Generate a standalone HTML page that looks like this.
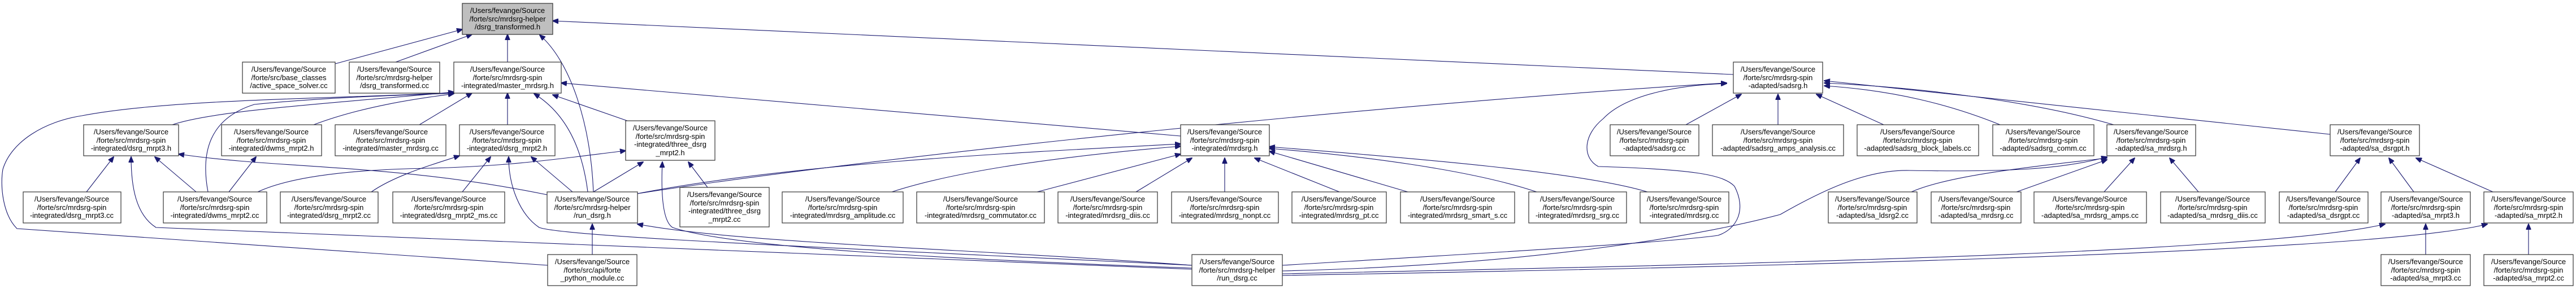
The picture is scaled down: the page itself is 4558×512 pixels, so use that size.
<!DOCTYPE html>
<html><head><meta charset="utf-8"><style>
html,body{margin:0;padding:0;background:#fff;width:4558px;height:512px;overflow:hidden}
svg text{font-family:"Liberation Sans",Arial,sans-serif;font-size:13px;fill:#000}
.b{fill:#fff;stroke:#333;stroke-width:1.2}
.g{fill:#bfbfbf;stroke:#333;stroke-width:1.2}
.e{fill:none;stroke:#191970;stroke-width:1.1}
</style></head><body>
<svg width="4558" height="512" viewBox="0 0 4558 512" xmlns="http://www.w3.org/2000/svg">
<defs><marker id="a" markerWidth="11" markerHeight="9" refX="10" refY="4.5" orient="auto" markerUnits="userSpaceOnUse"><path d="M0,0 L11,4.5 L0,9z" fill="#191970" stroke="#191970"/></marker></defs>
<g class="e" marker-end="url(#a)">
<path d="M593,113 L818,52"/>
<path d="M700,110 L835,61"/>
<path d="M898,110 L898,61"/>
<path d="M1050,340 C1045,220 1010,110 955,62"/>
<path d="M3067,132 L978,37"/>
<path d="M305,221 C380,195 600,182 803,163"/>
<path d="M555,221 C650,185 760,172 803,166"/>
<path d="M742,221 L835,165"/>
<path d="M898,221 L898,165"/>
<path d="M1110,214 L978,168"/>
<path d="M1040,340 C1030,260 1000,200 945,166"/>
<path d="M2089,241 L993,147"/>
<path d="M969,470 L30,405 C5,380 0,330 5,300 C20,250 80,215 145,205 C300,175 600,175 803,164"/>
<path d="M368,340 C355,270 370,210 450,185 C600,170 750,168 803,165"/>
<path d="M153,340 L201,278"/>
<path d="M347,340 L274,278"/>
<path d="M2109,477 L276,403 C240,380 232,330 232,278"/>
<path d="M968,345 C700,290 500,300 316,273"/>
<path d="M405,340 L453,278"/>
<path d="M657,340 C700,310 770,290 813,276"/>
<path d="M818,340 L868,278"/>
<path d="M1013,340 L940,278"/>
<path d="M2109,470 C1500,440 1000,420 954,403 C920,380 900,330 900,278"/>
<path d="M456,340 C520,310 640,300 760,298 C900,295 1000,280 1107,267"/>
<path d="M1050,340 L1138,287"/>
<path d="M1252,332 L1218,287"/>
<path d="M2109,475 C1700,460 1300,440 1190,403 C1170,390 1170,330 1172,287"/>
<path d="M1128,343 C1400,290 1800,270 2089,255"/>
<path d="M1578,340 C1700,300 1900,275 2089,259"/>
<path d="M1835,340 L2089,273"/>
<path d="M2010,340 L2109,280"/>
<path d="M2167,340 L2167,280"/>
<path d="M2370,340 L2220,280"/>
<path d="M2491,340 L2246,268"/>
<path d="M2719,340 C2600,300 2400,275 2246,263"/>
<path d="M2915,340 C2800,305 2500,280 2246,260"/>
<path d="M1048,451 L1048,397"/>
<path d="M2109,470 C1700,440 1300,430 1128,397"/>
<path d="M1128,343 C1600,270 2500,180 3055,147"/>
<path d="M2983,221 L3081,167"/>
<path d="M3146,221 L3146,167"/>
<path d="M3333,221 L3214,167"/>
<path d="M3539,221 C3450,185 3350,160 3228,152"/>
<path d="M3740,221 C3600,180 3400,155 3228,147"/>
<path d="M4123,238 L3228,143"/>
<path d="M2269,470 C2600,450 2950,430 3040,417 C3075,405 3090,370 3069,330 C3050,310 3000,300 2828,295 C2800,280 2800,240 2837,210 C2880,165 2980,150 3055,148"/>
<path d="M3382,340 C3450,310 3600,295 3728,280"/>
<path d="M3568,340 L3728,283"/>
<path d="M3723,340 L3777,280"/>
<path d="M3890,340 L3839,280"/>
<path d="M2269,480 C2700,470 3000,420 3150,380 C3220,340 3300,300 3379,302 C3550,305 3650,300 3728,278"/>
<path d="M4132,340 L4176,280"/>
<path d="M4271,340 L4227,280"/>
<path d="M4411,340 L4275,280"/>
<path d="M4292,451 L4292,397"/>
<path d="M2269,485 C3000,470 4000,450 4220,397"/>
<path d="M4474,451 L4474,397"/>
<path d="M2269,488 C3000,475 4200,450 4401,397"/>
</g>

<g text-anchor="middle">
<rect class="g" x="818" y="6" width="160" height="55"/><text x="898" y="23">/Users/fevange/Source</text><text x="898" y="38">/forte/src/mrdsrg-helper</text><text x="898" y="52">/dsrg_transformed.h</text>

<rect class="b" x="429" y="110" width="164" height="55"/><text x="511" y="127">/Users/fevange/Source</text><text x="511" y="142">/forte/src/base_classes</text><text x="511" y="156">/active_space_solver.cc</text>
<rect class="b" x="618" y="110" width="160" height="55"/><text x="698" y="127">/Users/fevange/Source</text><text x="698" y="142">/forte/src/mrdsrg-helper</text><text x="698" y="156">/dsrg_transformed.cc</text>
<rect class="b" x="803" y="110" width="190" height="55"/><text x="898" y="127">/Users/fevange/Source</text><text x="898" y="142">/forte/src/mrdsrg-spin</text><text x="898" y="156">-integrated/master_mrdsrg.h</text>
<rect class="b" x="3067" y="110" width="158" height="55"/><text x="3146" y="127">/Users/fevange/Source</text><text x="3146" y="142">/forte/src/mrdsrg-spin</text><text x="3146" y="156">-adapted/sadsrg.h</text>

<rect class="b" x="148" y="221" width="168" height="55"/><text x="232" y="238">/Users/fevange/Source</text><text x="232" y="253">/forte/src/mrdsrg-spin</text><text x="232" y="267">-integrated/dsrg_mrpt3.h</text>
<rect class="b" x="392" y="221" width="177" height="55"/><text x="480" y="238">/Users/fevange/Source</text><text x="480" y="253">/forte/src/mrdsrg-spin</text><text x="480" y="267">-integrated/dwms_mrpt2.h</text>
<rect class="b" x="593" y="221" width="196" height="55"/><text x="691" y="238">/Users/fevange/Source</text><text x="691" y="253">/forte/src/mrdsrg-spin</text><text x="691" y="267">-integrated/master_mrdsrg.cc</text>
<rect class="b" x="813" y="221" width="169" height="55"/><text x="897" y="238">/Users/fevange/Source</text><text x="897" y="253">/forte/src/mrdsrg-spin</text><text x="897" y="267">-integrated/dsrg_mrpt2.h</text>
<rect class="b" x="1107" y="214" width="158" height="70"/><text x="1186" y="231">/Users/fevange/Source</text><text x="1186" y="246">/forte/src/mrdsrg-spin</text><text x="1186" y="260">-integrated/three_dsrg</text><text x="1186" y="275">_mrpt2.h</text>
<rect class="b" x="2089" y="221" width="157" height="55"/><text x="2167" y="238">/Users/fevange/Source</text><text x="2167" y="253">/forte/src/mrdsrg-spin</text><text x="2167" y="267">-integrated/mrdsrg.h</text>
<rect class="b" x="2849" y="221" width="157" height="55"/><text x="2927" y="238">/Users/fevange/Source</text><text x="2927" y="253">/forte/src/mrdsrg-spin</text><text x="2927" y="267">-adapted/sadsrg.cc</text>
<rect class="b" x="3030" y="221" width="232" height="55"/><text x="3146" y="238">/Users/fevange/Source</text><text x="3146" y="253">/forte/src/mrdsrg-spin</text><text x="3146" y="267">-adapted/sadsrg_amps_analysis.cc</text>
<rect class="b" x="3286" y="221" width="215" height="55"/><text x="3393" y="238">/Users/fevange/Source</text><text x="3393" y="253">/forte/src/mrdsrg-spin</text><text x="3393" y="267">-adapted/sadsrg_block_labels.cc</text>
<rect class="b" x="3526" y="221" width="179" height="55"/><text x="3615" y="238">/Users/fevange/Source</text><text x="3615" y="253">/forte/src/mrdsrg-spin</text><text x="3615" y="267">-adapted/sadsrg_comm.cc</text>
<rect class="b" x="3728" y="221" width="157" height="55"/><text x="3806" y="238">/Users/fevange/Source</text><text x="3806" y="253">/forte/src/mrdsrg-spin</text><text x="3806" y="267">-adapted/sa_mrdsrg.h</text>
<rect class="b" x="4123" y="221" width="158" height="55"/><text x="4202" y="238">/Users/fevange/Source</text><text x="4202" y="253">/forte/src/mrdsrg-spin</text><text x="4202" y="267">-adapted/sa_dsrgpt.h</text>

<rect class="b" x="41" y="340" width="173" height="55"/><text x="127" y="357">/Users/fevange/Source</text><text x="127" y="372">/forte/src/mrdsrg-spin</text><text x="127" y="386">-integrated/dsrg_mrpt3.cc</text>
<rect class="b" x="289" y="340" width="183" height="55"/><text x="380" y="357">/Users/fevange/Source</text><text x="380" y="372">/forte/src/mrdsrg-spin</text><text x="380" y="386">-integrated/dwms_mrpt2.cc</text>
<rect class="b" x="496" y="340" width="173" height="55"/><text x="582" y="357">/Users/fevange/Source</text><text x="582" y="372">/forte/src/mrdsrg-spin</text><text x="582" y="386">-integrated/dsrg_mrpt2.cc</text>
<rect class="b" x="695" y="340" width="198" height="55"/><text x="794" y="357">/Users/fevange/Source</text><text x="794" y="372">/forte/src/mrdsrg-spin</text><text x="794" y="386">-integrated/dsrg_mrpt2_ms.cc</text>
<rect class="b" x="968" y="340" width="160" height="55"/><text x="1048" y="357">/Users/fevange/Source</text><text x="1048" y="372">/forte/src/mrdsrg-helper</text><text x="1048" y="386">/run_dsrg.h</text>
<rect class="b" x="1203" y="332" width="158" height="70"/><text x="1282" y="349">/Users/fevange/Source</text><text x="1282" y="364">/forte/src/mrdsrg-spin</text><text x="1282" y="378">-integrated/three_dsrg</text><text x="1282" y="393">_mrpt2.cc</text>
<rect class="b" x="1384" y="340" width="214" height="55"/><text x="1491" y="357">/Users/fevange/Source</text><text x="1491" y="372">/forte/src/mrdsrg-spin</text><text x="1491" y="386">-integrated/mrdsrg_amplitude.cc</text>
<rect class="b" x="1622" y="340" width="226" height="55"/><text x="1735" y="357">/Users/fevange/Source</text><text x="1735" y="372">/forte/src/mrdsrg-spin</text><text x="1735" y="386">-integrated/mrdsrg_commutator.cc</text>
<rect class="b" x="1872" y="340" width="176" height="55"/><text x="1960" y="357">/Users/fevange/Source</text><text x="1960" y="372">/forte/src/mrdsrg-spin</text><text x="1960" y="386">-integrated/mrdsrg_diis.cc</text>
<rect class="b" x="2073" y="340" width="189" height="55"/><text x="2167" y="357">/Users/fevange/Source</text><text x="2167" y="372">/forte/src/mrdsrg-spin</text><text x="2167" y="386">-integrated/mrdsrg_nonpt.cc</text>
<rect class="b" x="2286" y="340" width="167" height="55"/><text x="2369" y="357">/Users/fevange/Source</text><text x="2369" y="372">/forte/src/mrdsrg-spin</text><text x="2369" y="386">-integrated/mrdsrg_pt.cc</text>
<rect class="b" x="2478" y="340" width="202" height="55"/><text x="2579" y="357">/Users/fevange/Source</text><text x="2579" y="372">/forte/src/mrdsrg-spin</text><text x="2579" y="386">-integrated/mrdsrg_smart_s.cc</text>
<rect class="b" x="2705" y="340" width="173" height="55"/><text x="2791" y="357">/Users/fevange/Source</text><text x="2791" y="372">/forte/src/mrdsrg-spin</text><text x="2791" y="386">-integrated/mrdsrg_srg.cc</text>
<rect class="b" x="2902" y="340" width="157" height="55"/><text x="2980" y="357">/Users/fevange/Source</text><text x="2980" y="372">/forte/src/mrdsrg-spin</text><text x="2980" y="386">-integrated/mrdsrg.cc</text>
<rect class="b" x="3235" y="340" width="157" height="55"/><text x="3313" y="357">/Users/fevange/Source</text><text x="3313" y="372">/forte/src/mrdsrg-spin</text><text x="3313" y="386">-adapted/sa_ldsrg2.cc</text>
<rect class="b" x="3417" y="340" width="159" height="55"/><text x="3496" y="357">/Users/fevange/Source</text><text x="3496" y="372">/forte/src/mrdsrg-spin</text><text x="3496" y="386">-adapted/sa_mrdsrg.cc</text>
<rect class="b" x="3599" y="340" width="199" height="55"/><text x="3698" y="357">/Users/fevange/Source</text><text x="3698" y="372">/forte/src/mrdsrg-spin</text><text x="3698" y="386">-adapted/sa_mrdsrg_amps.cc</text>
<rect class="b" x="3823" y="340" width="185" height="55"/><text x="3915" y="357">/Users/fevange/Source</text><text x="3915" y="372">/forte/src/mrdsrg-spin</text><text x="3915" y="386">-adapted/sa_mrdsrg_diis.cc</text>
<rect class="b" x="4033" y="340" width="157" height="55"/><text x="4111" y="357">/Users/fevange/Source</text><text x="4111" y="372">/forte/src/mrdsrg-spin</text><text x="4111" y="386">-adapted/sa_dsrgpt.cc</text>
<rect class="b" x="4213" y="340" width="158" height="55"/><text x="4292" y="357">/Users/fevange/Source</text><text x="4292" y="372">/forte/src/mrdsrg-spin</text><text x="4292" y="386">-adapted/sa_mrpt3.h</text>
<rect class="b" x="4395" y="340" width="158" height="55"/><text x="4474" y="357">/Users/fevange/Source</text><text x="4474" y="372">/forte/src/mrdsrg-spin</text><text x="4474" y="386">-adapted/sa_mrpt2.h</text>

<rect class="b" x="969" y="451" width="158" height="55"/><text x="1048" y="468">/Users/fevange/Source</text><text x="1048" y="483">/forte/src/api/forte</text><text x="1048" y="497">_python_module.cc</text>
<rect class="b" x="2109" y="451" width="160" height="55"/><text x="2189" y="468">/Users/fevange/Source</text><text x="2189" y="483">/forte/src/mrdsrg-helper</text><text x="2189" y="497">/run_dsrg.cc</text>
<rect class="b" x="4213" y="451" width="158" height="55"/><text x="4292" y="468">/Users/fevange/Source</text><text x="4292" y="483">/forte/src/mrdsrg-spin</text><text x="4292" y="497">-adapted/sa_mrpt3.cc</text>
<rect class="b" x="4395" y="451" width="158" height="55"/><text x="4474" y="468">/Users/fevange/Source</text><text x="4474" y="483">/forte/src/mrdsrg-spin</text><text x="4474" y="497">-adapted/sa_mrpt2.cc</text>
</g>
</svg>
</body></html>
